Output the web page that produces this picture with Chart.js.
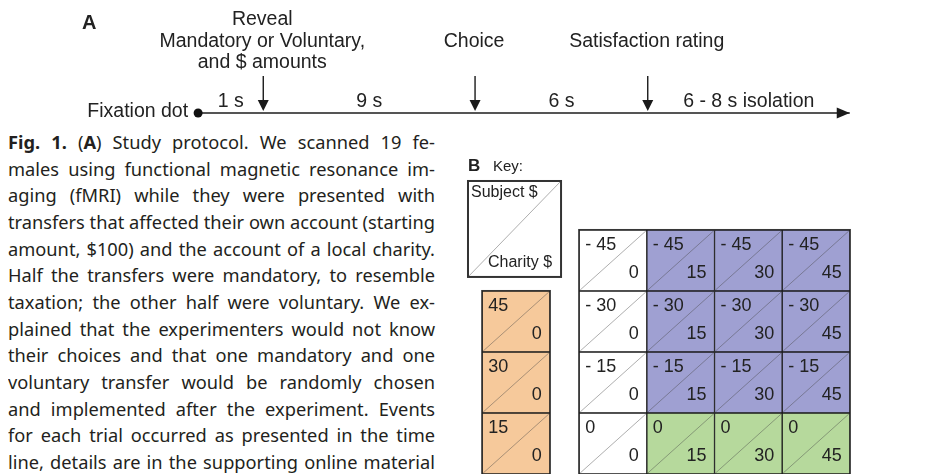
<!DOCTYPE html>
<html>
<head>
<meta charset="utf-8">
<script src="https://cdn.jsdelivr.net/npm/chart.js@4.4.1/dist/chart.umd.min.js"></script>
<style>
html, body { margin: 0; padding: 0; background: #fff; }
#page { position: relative; width: 926px; height: 474px; overflow: hidden; }
#timeline { position: absolute; left: 0; top: 0; }
#grid { position: absolute; left: 455px; top: 150px; }
#caption { position: absolute; left: 8px; top: 129px; width: 427px; font-family: "Noto Sans", sans-serif;
  font-size: 18.5px; line-height: 26.67px; color: #231f20; transform-origin: 0 0; }
#caption div { white-space: nowrap; text-align: justify; text-align-last: justify; }
</style>
</head>
<body>
<div id="page">
  <canvas id="timeline" width="926" height="125"></canvas>
  <div id="caption">
    <div><span class="l"><b>Fig. 1.</b> (<b>A</b>) Study protocol. We scanned 19 fe-</span></div>
    <div><span class="l">males using functional magnetic resonance im-</span></div>
    <div><span class="l">aging (fMRI) while they were presented with</span></div>
    <div><span class="l">transfers that affected their own account (starting</span></div>
    <div><span class="l">amount, $100) and the account of a local charity.</span></div>
    <div><span class="l">Half the transfers were mandatory, to resemble</span></div>
    <div><span class="l">taxation; the other half were voluntary. We ex-</span></div>
    <div><span class="l">plained that the experimenters would not know</span></div>
    <div><span class="l">their choices and that one mandatory and one</span></div>
    <div><span class="l">voluntary transfer would be randomly chosen</span></div>
    <div><span class="l">and implemented after the experiment. Events</span></div>
    <div><span class="l">for each trial occurred as presented in the time</span></div>
    <div><span class="l">line, details are in the supporting online material</span></div>
  </div>
  <canvas id="grid" width="471" height="324"></canvas>
</div>
<script>
// timeline (A) - positions are schematic, not to scale
const eventLabels = [['Reveal', 'Mandatory or Voluntary,', 'and $ amounts'], ['Choice'], ['Satisfaction rating']];
const eventPositions = [1, 4.25, 6.9];
const startPos = 0;
const endPos = 10;
const segmentLabels = ['1 s', '9 s', '6 s', '6 - 8 s isolation'];

// panel B: transfer grid
const charityAmounts = [0, 15, 30, 45];
const subjectAmounts = [-45, -30, -15, 0];
const giftSubjectAmounts = [45, 30, 15];   // charity gets 0 in these
const giftCharityAmount = 0;

const FONT = '"Liberation Sans", Arial, sans-serif';
const TEXT = '#222';

// fit caption lines into the column
(function () {
  const cap = document.getElementById('caption');
  let maxW = 0;
  cap.querySelectorAll('span.l').forEach(function (s) { maxW = Math.max(maxW, s.getBoundingClientRect().width); });
  const s = Math.min(1, 427 / maxW);
  cap.style.width = (427 / s) + 'px';
  cap.style.transform = 'scaleX(' + s + ')';
})();

//Timeline

const allPos = [startPos].concat(eventPositions, [endPos]);

const timelinePlugin = {
  id: 'timelineMarks',
  afterDatasetsDraw(chart) {
    const ctx = chart.ctx, xs = chart.scales.x, ys = chart.scales.y;
    const y0 = ys.getPixelForValue(0);
    ctx.save();
    ctx.fillStyle = '#1a1a1a';
    ctx.strokeStyle = '#1a1a1a';
    const xe = xs.getPixelForValue(endPos);
    ctx.beginPath();
    ctx.moveTo(xe, y0); ctx.lineTo(xe - 13, y0 - 5.5); ctx.lineTo(xe - 13, y0 + 5.5);
    ctx.closePath(); ctx.fill();

    ctx.font = '19.5px ' + FONT;
    ctx.textBaseline = 'middle';
    ctx.textAlign = 'center';
    eventPositions.forEach(function (p, i) {
      const x = xs.getPixelForValue(p);
      ctx.lineWidth = 1.4;
      ctx.beginPath(); ctx.moveTo(x, y0 - 37); ctx.lineTo(x, y0 - 11); ctx.stroke();
      ctx.beginPath();
      ctx.moveTo(x, y0 - 2); ctx.lineTo(x - 5.5, y0 - 13); ctx.lineTo(x + 5.5, y0 - 13);
      ctx.closePath(); ctx.fill();
      const lines = eventLabels[i];
      ctx.fillStyle = TEXT;
      lines.forEach(function (t, j) {
        ctx.fillText(t, x - 1, y0 - 71.5 + (j - (lines.length - 1) / 2) * 21.5);
      });
      ctx.fillStyle = '#1a1a1a';
    });

    ctx.fillStyle = TEXT;
    segmentLabels.forEach(function (t, k) {
      const xm = xs.getPixelForValue((allPos[k] + allPos[k + 1]) / 2);
      ctx.fillText(t, xm, y0 - 11);
    });

    ctx.textAlign = 'right';
    ctx.fillText('Fixation dot', xs.getPixelForValue(startPos) - 10, y0 - 1);

    ctx.textAlign = 'left';
    ctx.font = 'bold 20px ' + FONT;
    ctx.fillText('A', 82, 23);
    ctx.restore();
  }
};

new Chart(document.getElementById('timeline').getContext('2d'), {
  type: 'scatter',
  data: {
    datasets: [{
      data: [{ x: startPos, y: 0 }, { x: endPos, y: 0 }],
      showLine: true,
      borderColor: '#555',
      borderWidth: 2,
      pointRadius: [4.5, 0],
      pointBackgroundColor: '#111',
      pointBorderWidth: 0
    }]
  },
  options: {
    responsive: false,
    animation: false,
    layout: { padding: 0, autoPadding: false },
    plugins: { legend: { display: false }, tooltip: { enabled: false } },
    scales: {
      x: { type: 'linear', display: false, min: -3.04, max: 11.17 },
      y: { type: 'linear', display: false, min: -12, max: 113 }
    }
  },
  plugins: [timelinePlugin]
});

//Transfer grid

const giftCol = -1.433;
const keyBox = { x0: -2.143, x1: -0.768, y0: -1.303, y1: 0.27 };

function cellColor(c) {
  if (c.subject > 0) return '#f6c99b';
  if (c.charity === 0) return '#ffffff';
  if (c.subject < 0) return '#9fa0d2';
  return '#b6d99c';
}

function fmt(v) { return v < 0 ? '- ' + (-v) : String(v); }

const gridCells = [];
subjectAmounts.forEach(function (s, r) {
  charityAmounts.forEach(function (c, i) {
    gridCells.push({ x: i, y: [r - 0.5, r + 0.5], subject: s, charity: c });
  });
});
const giftCells = giftSubjectAmounts.map(function (s, k) {
  return { x: giftCol, y: [k + 0.5, k + 1.5], subject: s, charity: giftCharityAmount };
});

const gridPlugin = {
  id: 'gridMarks',
  afterDatasetsDraw(chart) {
    const ctx = chart.ctx, xs = chart.scales.x, ys = chart.scales.y;
    ctx.save();
    const boxes = [];
    chart.data.datasets.forEach(function (ds, di) {
      const meta = chart.getDatasetMeta(di);
      meta.data.forEach(function (el, i) {
        const p = el.getProps(['x', 'y', 'base', 'width'], true);
        const b = { l: p.x - p.width / 2, r: p.x + p.width / 2, t: Math.min(p.y, p.base), b: Math.max(p.y, p.base), raw: ds.data[i] };
        boxes.push(b);
      });
    });
    boxes.forEach(function (b) {
      ctx.strokeStyle = 'rgba(70,70,70,0.55)';
      ctx.lineWidth = 0.8;
      ctx.beginPath(); ctx.moveTo(b.l + 1, b.b - 1); ctx.lineTo(b.r - 1, b.t + 1); ctx.stroke();
      ctx.fillStyle = TEXT;
      ctx.font = '18px ' + FONT;
      ctx.textBaseline = 'middle';
      ctx.textAlign = 'left';
      ctx.fillText(fmt(b.raw.subject), b.l + 6, b.t + 15);
      ctx.textAlign = 'right';
      ctx.fillText(fmt(b.raw.charity), b.r - 8, b.t + 43);
    });

    // outer frames
    ctx.strokeStyle = '#333';
    ctx.lineWidth = 1;
    const gl = xs.getPixelForValue(-0.5), gr = xs.getPixelForValue(charityAmounts.length - 0.5);
    const gt = ys.getPixelForValue(-0.5), gb = ys.getPixelForValue(subjectAmounts.length - 0.5);
    ctx.strokeRect(gl - 0.5, gt - 0.5, gr - gl + 1, gb - gt + 1);
    const ol = xs.getPixelForValue(giftCol - 0.5), or = xs.getPixelForValue(giftCol + 0.5);
    const ot = ys.getPixelForValue(0.5), ob = ys.getPixelForValue(giftSubjectAmounts.length + 0.5);
    ctx.strokeRect(ol - 0.5, ot - 0.5, or - ol + 1, ob - ot + 1);

    // key
    const kl = xs.getPixelForValue(keyBox.x0), kr = xs.getPixelForValue(keyBox.x1);
    const kt = ys.getPixelForValue(keyBox.y0), kb = ys.getPixelForValue(keyBox.y1);
    ctx.fillStyle = '#fff';
    ctx.fillRect(kl, kt, kr - kl, kb - kt);
    ctx.strokeStyle = 'rgba(70,70,70,0.55)';
    ctx.lineWidth = 0.8;
    ctx.beginPath(); ctx.moveTo(kl + 1, kb - 1); ctx.lineTo(kr - 1, kt + 1); ctx.stroke();
    ctx.strokeStyle = '#333';
    ctx.lineWidth = 2;
    ctx.strokeRect(kl, kt, kr - kl, kb - kt);
    ctx.fillStyle = TEXT;
    ctx.font = '16px ' + FONT;
    ctx.textAlign = 'left';
    ctx.fillText('Subject $', kl + 3, kt + 12);
    ctx.textAlign = 'right';
    ctx.fillText('Charity $', kr - 9, kb - 14);

    ctx.textAlign = 'left';
    ctx.font = 'bold 17px ' + FONT;
    ctx.fillText('B', kl, kt - 15);
    ctx.font = '15px ' + FONT;
    ctx.fillText('Key:', kl + 25, kt - 14);
    ctx.restore();
  }
};

new Chart(document.getElementById('grid').getContext('2d'), {
  type: 'bar',
  data: {
    datasets: [
      { data: gridCells, backgroundColor: function (c) { return cellColor(c.raw); } },
      { data: giftCells, backgroundColor: function (c) { return cellColor(c.raw); } }
    ]
  },
  options: {
    responsive: false,
    animation: false,
    layout: { padding: 0 },
    datasets: { bar: { borderColor: '#1a1a1a', borderWidth: 1, borderSkipped: false, barPercentage: 1, categoryPercentage: 1, grouped: false } },
    plugins: { legend: { display: false }, tooltip: { enabled: false } },
    scales: {
      x: { type: 'linear', display: false, offset: false, min: -2.335, max: 4.625, ticks: { stepSize: 1, includeBounds: false } },
      y: { type: 'linear', display: false, reverse: true, min: -1.811, max: 3.5 }
    }
  },
  plugins: [gridPlugin]
});
</script>
</body>
</html>
